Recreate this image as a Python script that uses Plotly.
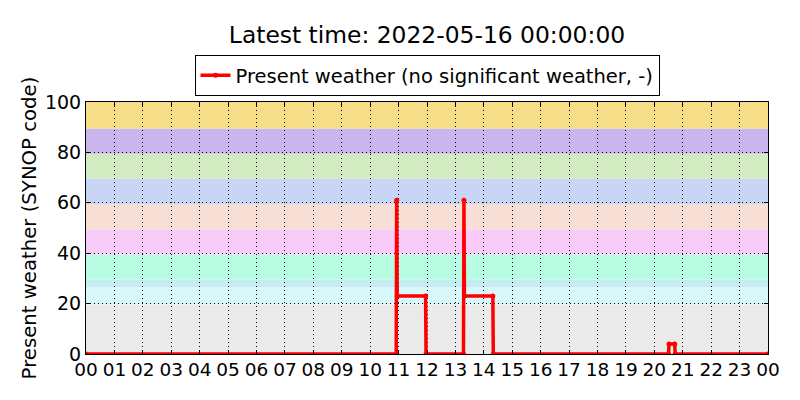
import plotly.graph_objects as go

# ---- data ----
times = [
    "2022-05-15 00:00", "2022-05-15 10:55", "2022-05-15 10:56", "2022-05-15 10:57",
    "2022-05-15 11:57", "2022-05-15 11:58", "2022-05-15 13:17", "2022-05-15 13:18",
    "2022-05-15 13:19", "2022-05-15 14:19", "2022-05-15 14:20", "2022-05-15 20:30",
    "2022-05-15 20:31", "2022-05-15 20:43", "2022-05-15 20:44", "2022-05-16 00:00",
]
present_weather = [0, 0, 61, 23, 23, 0, 0, 61, 23, 23, 0, 0, 4, 4, 0, 0]

band_lower = [0, 19.5, 26.5, 29.5, 39.5, 49.5, 59.5, 69.5, 79.5, 89.5]
band_upper = [19.5, 26.5, 29.5, 39.5, 49.5, 59.5, 69.5, 79.5, 89.5, 100]
band_colors = ["#eaeaea", "#d9f8fc", "#c5ecf2", "#b8fde3", "#f9cbf9",
               "#f7dfd6", "#c8d5f4", "#d2ebc0", "#c8b6ec", "#f6de88"]

x_ticks = [f"2022-05-15 {h:02d}:00" for h in range(24)] + ["2022-05-16 00:00"]
x_ticktext = [f"{h:02d}" for h in range(24)] + ["00"]
y_ticks = [0, 20, 40, 60, 80, 100]

title_text = "Latest time: 2022-05-16 00:00:00"
series_name = "Present weather (no significant weather, -)"
y_title = "Present weather (SYNOP code)"

# ---- figure ----
fig = go.Figure()
fig.add_trace(go.Scatter(
    x=times, y=present_weather, mode="lines+markers", name=series_name,
    line=dict(color="#ff0000", width=3.5),
    marker=dict(color="#ff0000", size=5),
    cliponaxis=True,
))

for lo, hi, c in zip(band_lower, band_upper, band_colors):
    fig.add_shape(type="rect", xref="paper", yref="y", x0=0, x1=1, y0=lo, y1=hi,
                  fillcolor=c, line=dict(width=0), layer="below")

font = "DejaVu Sans"
fig.update_layout(
    width=800, height=400,
    margin=dict(l=78, r=40, t=94, b=54, autoexpand=False),
    paper_bgcolor="white", plot_bgcolor="white",
    font=dict(family=font, color="black", size=18),
    title=dict(text=title_text, x=419 / 800, xanchor="center", yref="container",
               y=1 - 27 / 400, yanchor="middle", font=dict(size=23.4)),
    showlegend=True,
    legend=dict(x=0.5, xanchor="center", yref="container", y=1 - 47 / 400, yanchor="top",
                orientation="h", bordercolor="black", borderwidth=1,
                font=dict(size=19.5), bgcolor="white"),
    xaxis=dict(type="date", range=["2022-05-15 00:00", "2022-05-16 00:00"],
               tickmode="array", tickvals=x_ticks, ticktext=x_ticktext,
               showgrid=True, gridcolor="black", gridwidth=1, griddash="1px,3px",
               ticks="inside", ticklen=4, tickcolor="black",
               showline=True, linecolor="black", linewidth=1, mirror="ticks",
               tickfont=dict(size=18.5), zeroline=False, automargin=False,
               ticklabelstandoff=-1),
    yaxis=dict(range=[0, 100], tickmode="array", tickvals=y_ticks,
               showgrid=True, gridcolor="black", gridwidth=1, griddash="1px,3px",
               ticks="inside", ticklen=4, tickcolor="black",
               showline=True, linecolor="black", linewidth=1, mirror="ticks",
               tickfont=dict(size=19), zeroline=False, automargin=False,
               title=dict(text=y_title, font=dict(size=19.7), standoff=3)),
)

fig.write_html("out.html")
